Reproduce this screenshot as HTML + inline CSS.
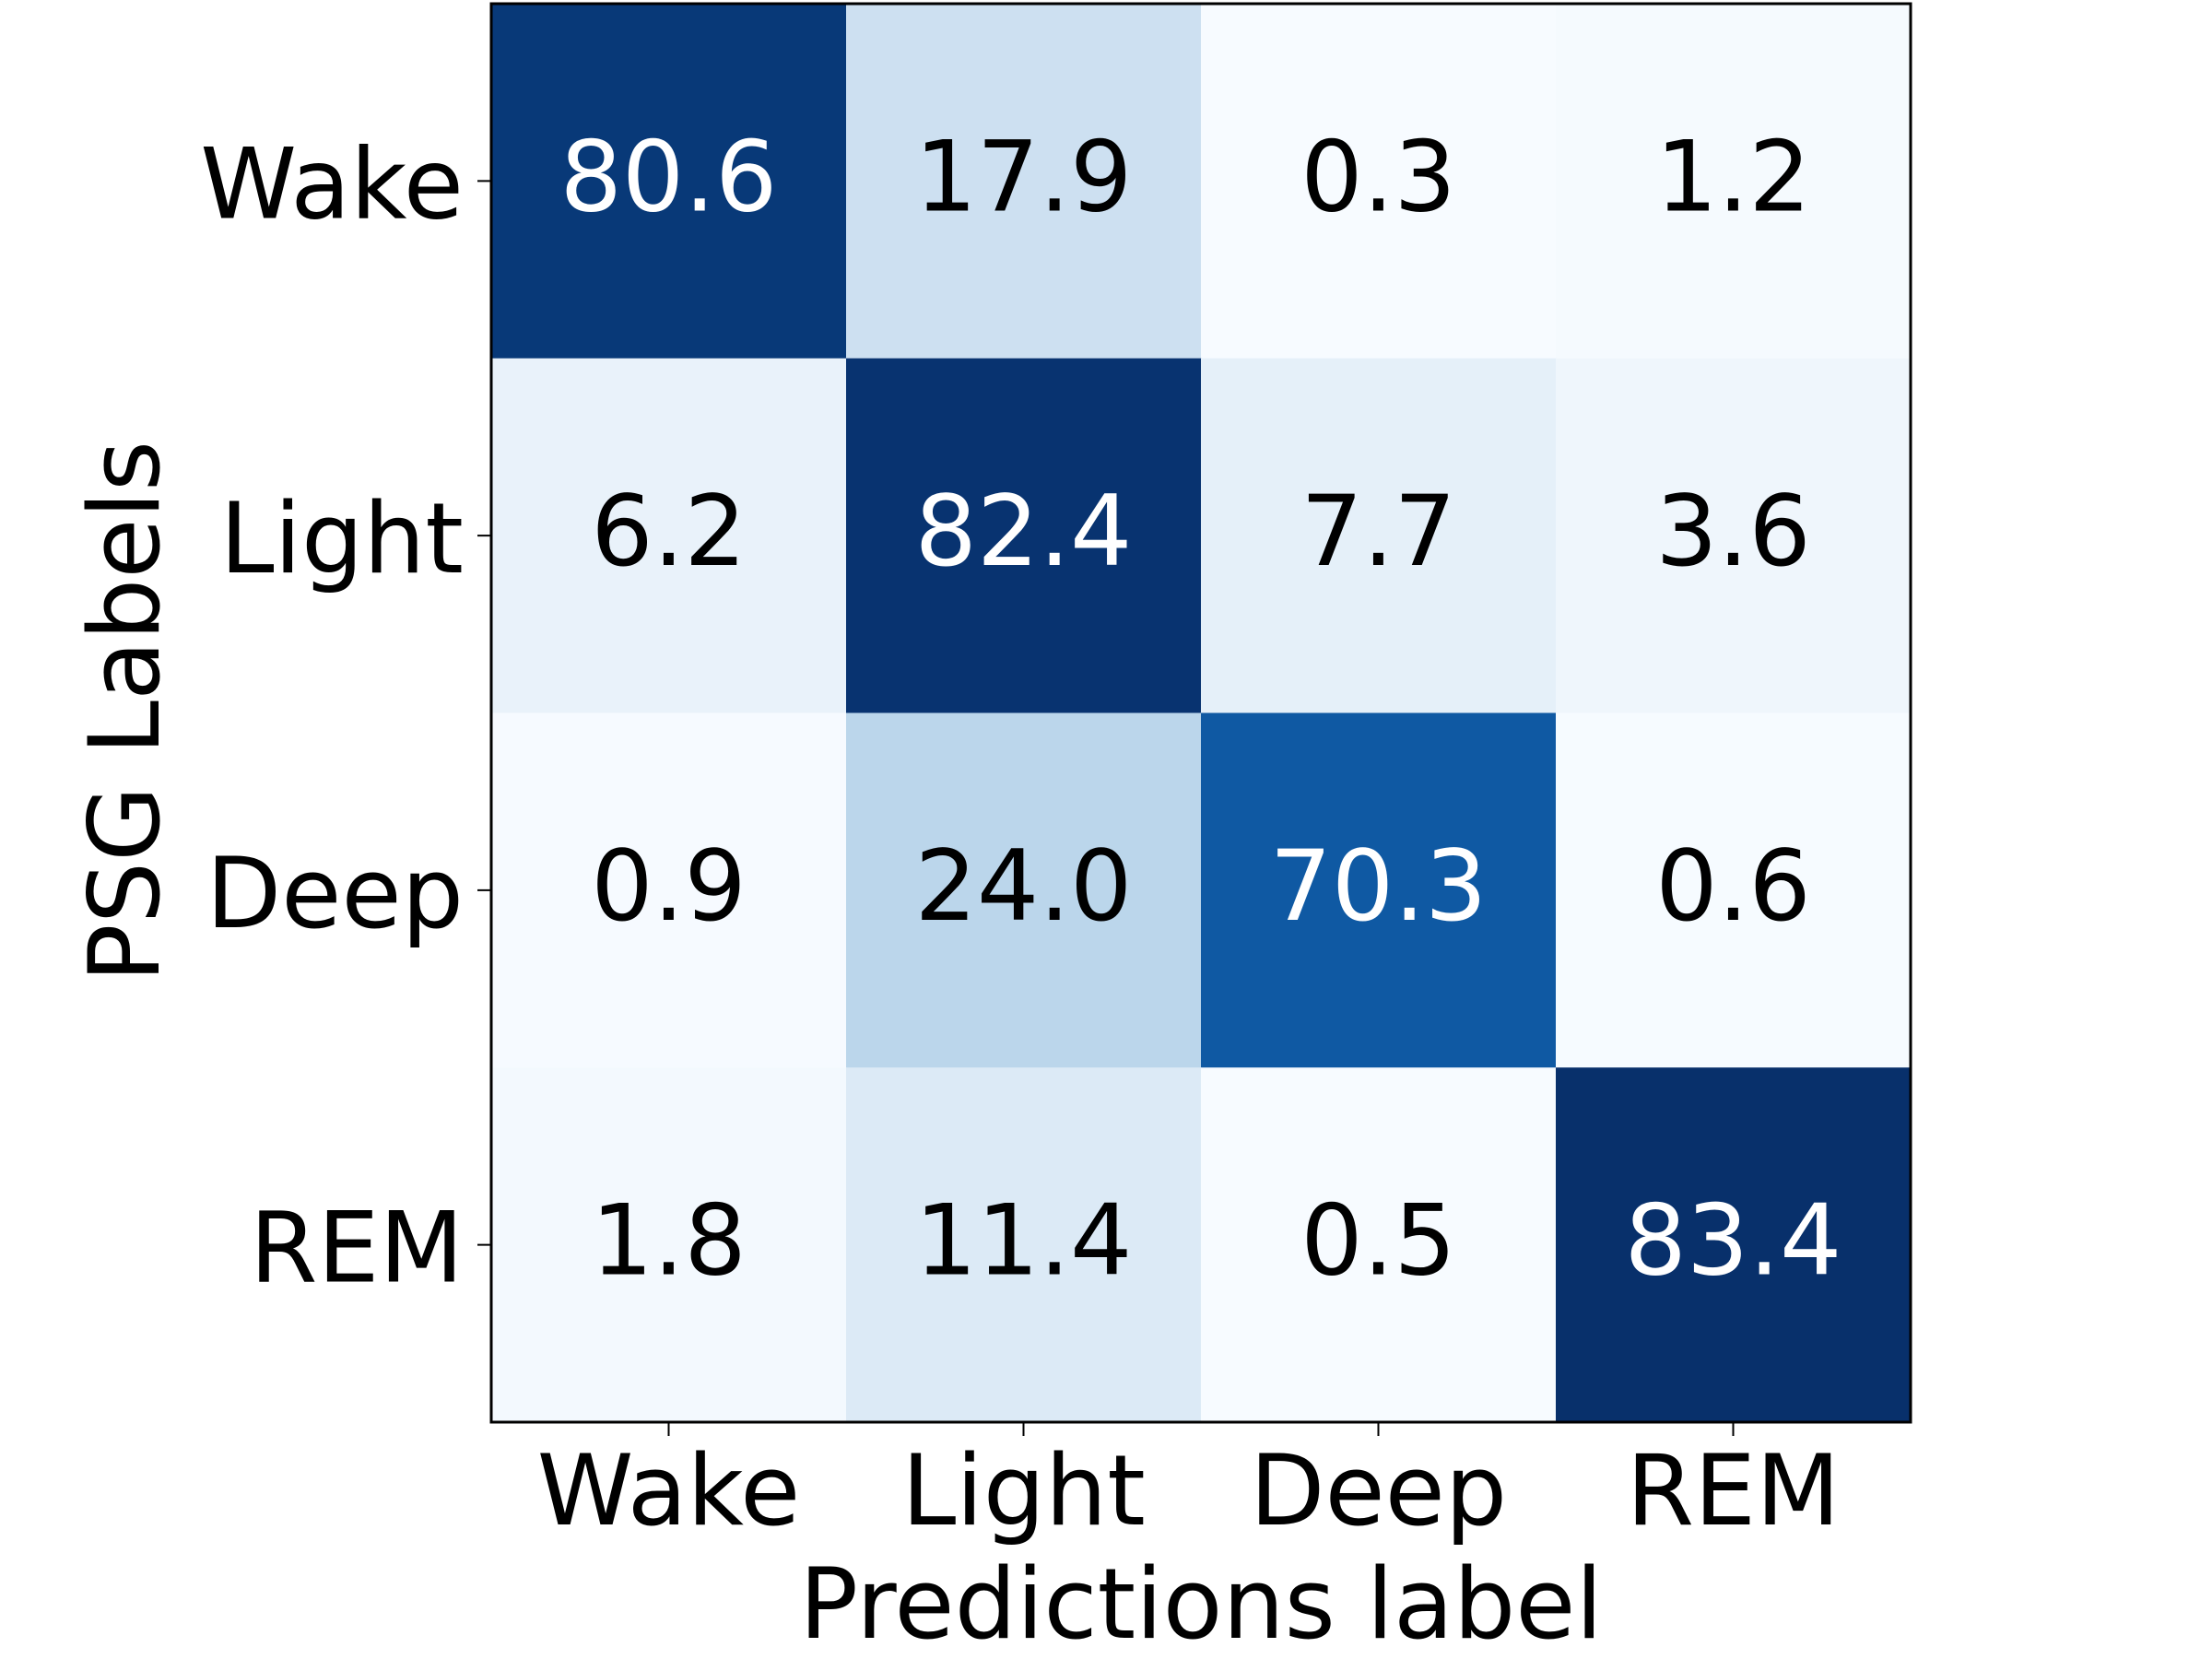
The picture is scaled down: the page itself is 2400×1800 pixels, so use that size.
<!DOCTYPE html>
<html><head><meta charset="utf-8"><style>
html,body{margin:0;padding:0;background:#fff;}
svg{display:block;font-family:"DejaVu Sans","Liberation Sans",sans-serif;}
</style></head><body>
<svg id="chart" width="2400" height="1800" viewBox="0 0 2400 1800" xmlns="http://www.w3.org/2000/svg">
<rect width="2400" height="1800" fill="#fff"/>
<g id="cells"></g>
<g id="vals"></g>
<g id="ticks"></g>
<rect x="533" y="4" width="1540" height="1539" fill="none" stroke="#000" stroke-width="3"/>
<text x="1303" y="1777" font-size="106" text-anchor="middle">Predictions label</text>
<text transform="translate(172,772) rotate(-90)" font-size="106" text-anchor="middle">PSG Labels</text>
</svg>
<script>
const categories = ["Wake","Light","Deep","REM"];
const rowWake = [80.6,17.9,0.3,1.2];
const rowLight = [6.2,82.4,7.7,3.6];
const rowDeep = [0.9,24.0,70.3,0.6];
const rowREM = [1.8,11.4,0.5,83.4];
const matrix = [rowWake,rowLight,rowDeep,rowREM];

const NS="http://www.w3.org/2000/svg";
const L=533,T=4,W=1540,H=1539;
const FS=106;
const n=categories.length;
const cw=W/n,ch=H/n;
const xPos=i=>L+i*cw;
const yPos=j=>T+j*ch;
const all=matrix.flat();
const vmin=Math.min(...all),vmax=Math.max(...all);
const stops=["#f7fbff","#deebf7","#c6dbef","#9ecae1","#6baed6","#4292c6","#2171b5","#08519c","#08306b"];
function hex(c){return [1,3,5].map(k=>parseInt(c.substr(k,2),16));}
function cmap(v){
  let t=(v-vmin)/(vmax-vmin);t=Math.max(0,Math.min(1,t));
  const p=t*(stops.length-1);const i=Math.min(Math.floor(p),stops.length-2);const f=p-i;
  const a=hex(stops[i]),b=hex(stops[i+1]);
  return "rgb("+a.map((x,k)=>Math.round(x+(b[k]-x)*f)).join(",")+")";
}
const cells=document.getElementById('cells'),vals=document.getElementById('vals'),ticks=document.getElementById('ticks');
const thresh=(vmax+vmin)/2;
matrix.forEach((row,j)=>row.forEach((v,i)=>{
  const r=document.createElementNS(NS,'rect');
  r.setAttribute('x',xPos(i));r.setAttribute('y',yPos(j));
  r.setAttribute('width',cw+0.5);r.setAttribute('height',ch+0.5);
  r.setAttribute('fill',cmap(v));
  
  
  cells.appendChild(r);
  const t=document.createElementNS(NS,'text');
  t.setAttribute('x',xPos(i)+cw/2);t.setAttribute('y',yPos(j)+ch/2+32);
  t.setAttribute('font-size',FS);t.setAttribute('text-anchor','middle');
  t.setAttribute('fill',v>thresh?'#fff':'#000');
  t.textContent=v.toFixed(1);
  
  
  vals.appendChild(t);
}));
categories.forEach((c,i)=>{
  const cx=xPos(i)+cw/2,cy=yPos(i)+ch/2;
  const lx=document.createElementNS(NS,'line');
  lx.setAttribute('x1',cx);lx.setAttribute('x2',cx);lx.setAttribute('y1',T+H);lx.setAttribute('y2',T+H+15);
  lx.setAttribute('stroke','#000');lx.setAttribute('stroke-width','2');
  
  
  ticks.appendChild(lx);
  const tx=document.createElementNS(NS,'text');
  tx.setAttribute('x',cx);tx.setAttribute('y',1654);tx.setAttribute('font-size',FS);tx.setAttribute('text-anchor','middle');
  tx.textContent=c;
  
  
  ticks.appendChild(tx);
  const ly=document.createElementNS(NS,'line');
  ly.setAttribute('x1',L-15);ly.setAttribute('x2',L);ly.setAttribute('y1',cy);ly.setAttribute('y2',cy);
  ly.setAttribute('stroke','#000');ly.setAttribute('stroke-width','2');
  
  
  ticks.appendChild(ly);
  const ty=document.createElementNS(NS,'text');
  ty.setAttribute('x',L-30);ty.setAttribute('y',cy+40);ty.setAttribute('font-size',FS);ty.setAttribute('text-anchor','end');
  ty.textContent=c;
  
  
  ticks.appendChild(ty);
});
</script>
</body></html>
